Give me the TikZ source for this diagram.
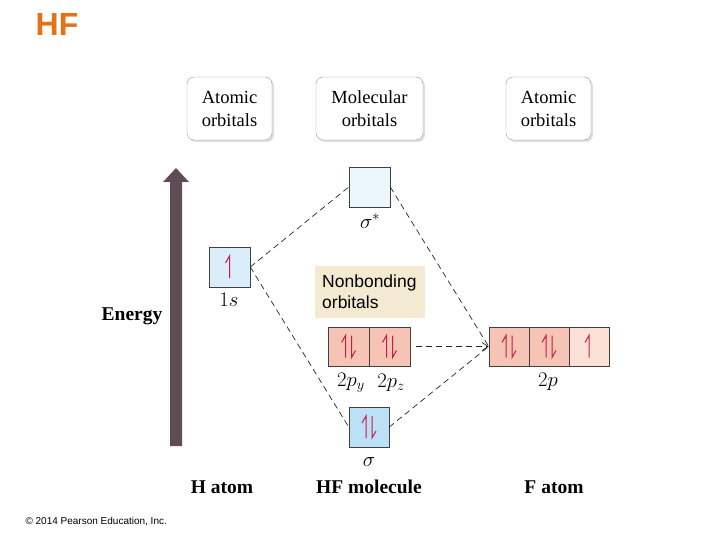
\documentclass[tikz,border=0pt]{standalone}
\usepackage{fontspec}
\setmainfont{Liberation Serif}
\setsansfont{Liberation Sans}
\usetikzlibrary{shadows,arrows.meta}
\definecolor{hforange}{RGB}{232,112,22}
\definecolor{lblue}{RGB}{218,237,251}
\definecolor{vlblue}{RGB}{236,246,253}
\definecolor{mblue}{RGB}{188,224,246}
\definecolor{salmon}{RGB}{246,196,180}
\definecolor{lsalmon}{RGB}{252,226,214}
\definecolor{beige}{RGB}{244,234,210}
\definecolor{spinred}{RGB}{196,28,70}
\definecolor{energy}{RGB}{96,76,86}
\definecolor{boxgray}{RGB}{150,150,150}
\tikzset{
  hdr/.style={draw=boxgray, rounded corners=7pt, fill=white, align=center,
    font=\fontsize{18.5}{23}\selectfont, minimum height=63pt, inner sep=0pt,
    drop shadow={opacity=0.25, shadow xshift=2pt, shadow yshift=-2pt}},
  orb/.style={draw=black!75, line width=0.6pt, minimum width=40pt, minimum height=39pt, inner sep=0pt},
  dline/.style={dash pattern=on 6pt off 4pt, line width=0.7pt, black!85},
  spin/.style={draw=spinred, line width=1pt},
  lbl/.style={font=\fontsize{20}{24}\selectfont},
  foot/.style={font=\fontsize{19.5}{24}\selectfont\bfseries},
  spinup/.pic={\draw[spin] (0,11)--(0,-11)--(-4,-4);},
  spindn/.pic={\draw[spin] (0,-11)--(0,11)--(4,4);},
}
\begin{document}
\begin{tikzpicture}[x=1pt,y=-1pt]
\useasboundingbox (0,0) rectangle (720,540);
% title
\node[font=\fontsize{32}{32}\sffamily\bfseries, text=hforange] (title) at (57,24) {HF};
% header boxes
\node[hdr, minimum width=85pt] (hA) at (229.5,108.5) {Atomic\\orbitals};
\node[hdr, minimum width=107pt] (hM) at (369.5,108.5) {Molecular\\orbitals};
\node[hdr, minimum width=85pt] (hB) at (548.5,108.5) {Atomic\\orbitals};
% energy arrow
\fill[energy] (170,446) -- (170,182) -- (163,182) -- (176,168) -- (189,182) -- (182,182) -- (182,446) -- cycle;
\node[foot] (en) at (132,316) {Energy};
% orbitals
\node[orb, fill=lblue, minimum width=41pt, minimum height=40pt] (h1s) at (229.5,267) {};
\node[lbl] (l1s) at (229,300) {$1s$};
\node[orb, fill=vlblue, minimum width=41pt, minimum height=40pt] (sigs) at (369.5,187) {};
\node[lbl] (lsigs) at (370,221) {$\sigma^*$};
\node[fill=beige, minimum width=110pt, minimum height=52pt, inner sep=0pt] (nb) at (370,292) {};
\node[font=\fontsize{17.5}{21}\sffamily, align=left, anchor=west, inner sep=0pt] (nbt) at (322,292) {Nonbonding\\orbitals};
\node[orb, fill=salmon, minimum width=41pt] (py) at (348.5,346.5) {};
\node[orb, fill=salmon, minimum width=41pt] (pz) at (389.5,346.5) {};
\node[lbl] (lpy) at (351,383) {$2p_y$};
\node[lbl] (lpz) at (391,383) {$2p_z$};
\node[orb, fill=mblue, minimum height=40pt] (sig) at (369,427) {};
\node[lbl] (lsig) at (369,462) {$\sigma$};
\node[orb, fill=salmon] (f1) at (509,346.5) {};
\node[orb, fill=salmon] (f2) at (549,346.5) {};
\node[orb, fill=lsalmon] (f3) at (589,346.5) {};
\node[lbl] (l2p) at (548,382) {$2p$};
% spins
\pic at (h1s.center) {spinup};
\pic at ([xshift=-3pt]py.center) {spinup};
\pic at ([xshift=3pt]py.center) {spindn};
\pic at ([xshift=-3pt]pz.center) {spinup};
\pic at ([xshift=3pt]pz.center) {spindn};
\pic at ([xshift=-3pt]sig.center) {spinup};
\pic at ([xshift=3pt]sig.center) {spindn};
\pic at ([xshift=-3pt]f1.center) {spinup};
\pic at ([xshift=3pt]f1.center) {spindn};
\pic at ([xshift=-3pt]f2.center) {spinup};
\pic at ([xshift=3pt]f2.center) {spindn};
\pic at (f3.center) {spinup};
% dashed connectors
\draw[dline] (h1s.east) -- (sigs.west);
\draw[dline] (h1s.east) -- (sig.west);
\draw[dline] (sigs.east) -- (f1.west);
\draw[dline] (sig.east) -- (f1.west);
\draw[dline, -{Straight Barb[length=6pt,width=8pt]}] ([xshift=6pt]pz.east) -- (f1.west);
% bottom labels
\node[foot] (ha) at (222,487) {H atom};
\node[foot] (hfm) at (369,487) {HF molecule};
\node[foot] (fa) at (554,487) {F atom};
\node[font=\fontsize{10}{12}\sffamily, anchor=west] (copy) at (22,522) {© 2014 Pearson Education, Inc.};
\end{tikzpicture}
\end{document}
